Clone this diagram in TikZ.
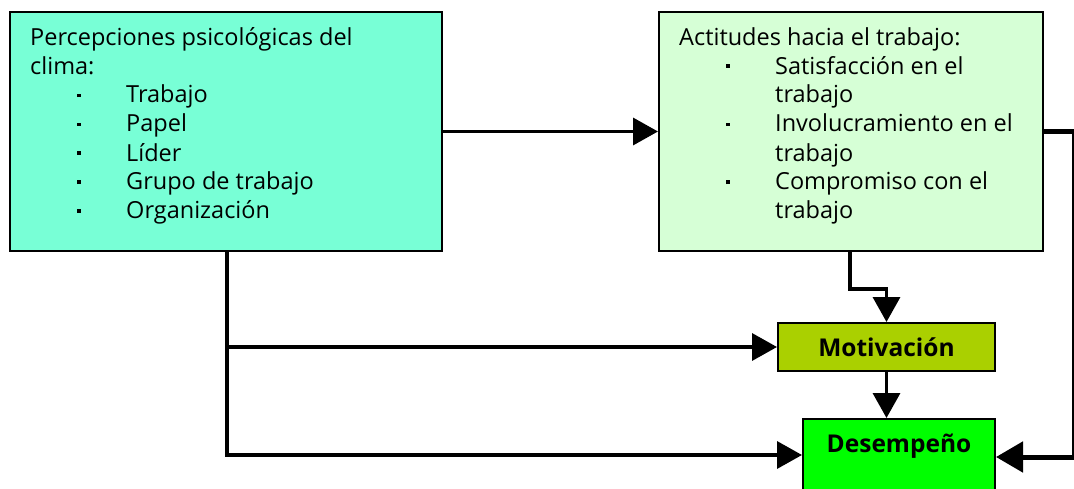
\documentclass[tikz,border=0pt]{standalone}
\usepackage{fontspec}
\setmainfont{Open Sans}
\usepackage{tikz}
\usetikzlibrary{arrows.meta, positioning, calc}

\newcommand{\bul}{\hspace*{47pt}\makebox[49pt][l]{\raisebox{6pt}{\rule{3.5pt}{3.5pt}}}}
\newcommand{\cont}{\hspace*{96pt}}

\begin{document}
\begin{tikzpicture}[
    x=1pt, y=-1pt,
    every node/.style={font=\fontsize{23.5}{29}\selectfont},
    % boxes
    box/.style={draw, line width=2pt, anchor=north west, inner sep=0pt},
    boxtext/.style={anchor=base west, align=left, inner sep=0pt},
    boldtext/.style={font=\fontsize{24.5}{29}\selectfont\bfseries},
    % Standard arrow
    arrow/.style={-{Triangle[length=25pt, width=27pt]}, line width=3.5pt},
    thickarrow/.style={-{Triangle[length=27pt, width=30pt]}, line width=5pt}
]
\path[use as bounding box, clip] (0,0) rectangle (1074,489);

% === NODES ===

% Climate perceptions (upper left)
	\node [box, fill={rgb,255:red,120;green,255;blue,214},
	minimum width=432pt, minimum height=239pt] (percep) at (9,11) {};
	% base of the last line
	\node [boxtext] (perceptxt) at ([shift={(21,208)}]percep.north west)
	{Percepciones psicológicas del\\
	clima:\\
	\bul Trabajo\\
	\bul Papel\\
	\bul Líder\\
	\bul Grupo de trabajo\\
	\bul Organización};

% Attitudes (upper right)
	\node [box, fill={rgb,255:red,214;green,255;blue,214},
	minimum width=384pt, minimum height=239pt] (actit) at (658,11) {};
	\node [boxtext] (actittxt) at ([shift={(21,208)}]actit.north west)
	{Actitudes hacia el trabajo:\\
	\bul Satisfacción en el\\
	\cont trabajo\\
	\bul Involucramiento en el\\
	\cont trabajo\\
	\bul Compromiso con el\\
	\cont trabajo};

% Motivation
	\node [box, boldtext, fill={rgb,255:red,170;green,208;blue,0},
	minimum width=217pt, minimum height=48pt] (motiv) at (777,322) {Motivación};

% Performance (bottom, cut by the page)
	\node [box, fill={rgb,255:red,0;green,255;blue,0},
	minimum width=192pt, minimum height=100pt] (desemp) at (802,418) {};
	\node [boldtext] (desemptxt)
	at ([shift={(0,28)}]desemp.north) {Desempeño};

% === ARROWS ===

% perceptions -> attitudes
\draw[arrow] (percep.east) -- (actit.west);

% perceptions -> motivation and performance
\coordinate (split) at ([xshift=218]percep.south west);
\draw[arrow] (split) |- (motiv.west);
\draw[arrow] (split) |- ($(desemp.north west)+(0,37)$);

% attitudes -> motivation
\draw[arrow] ([xshift=192]actit.south west) -- ++(0,37) -| (motiv.north);

% motivation -> performance
\draw[arrow] (motiv.south) -- (motiv.south |- desemp.north);

% attitudes -> performance (outer loop)
\draw[thickarrow] (actit.east) -- ++(30,0) |- ($(desemp.north east)+(0,39)$);

\end{tikzpicture}
\end{document}
